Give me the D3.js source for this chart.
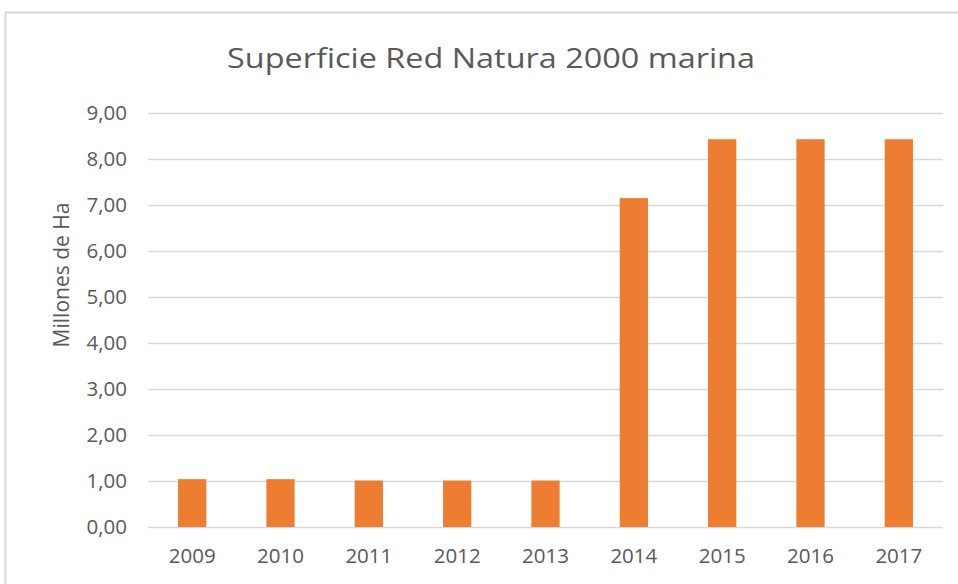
<!DOCTYPE html>
<html>
<head>
<meta charset="utf-8">
<script src="https://cdn.jsdelivr.net/npm/d3@7"></script>
<style>
  body { margin: 0; background: #fff; }
  text { font-family: "Open Sans", sans-serif; fill: #595959; }
</style>
</head>
<body>
<svg width="958" height="584"></svg>
<script>
const svg = d3.select("svg");

const years = ["2009", "2010", "2011", "2012", "2013", "2014", "2015", "2016", "2017"];
const superficie = [1.04, 1.04, 1.01, 1.01, 1.01, 7.15, 8.43, 8.43, 8.43];
const yTicks = [0, 1, 2, 3, 4, 5, 6, 7, 8, 9];

const margin = { left: 148, right: 15, top: 113, bottom: 57 };
const width = 958, height = 584;

// chart frame
svg.append("rect")
    .attr("x", 5.5).attr("y", 12.5)
    .attr("width", 1000).attr("height", 1000)
    .attr("fill", "none")
    .attr("stroke", "#d9d9d9")
    .attr("stroke-width", 2);

const x = d3.scaleBand()
    .domain(years)
    .range([margin.left, width - margin.right])
    .paddingInner(0.68)
    .paddingOuter(0.34);

const y = d3.scaleLinear()
    .domain([0, 9])
    .range([height - margin.bottom, margin.top]);

// gridlines
svg.append("g")
    .selectAll("line")
    .data(yTicks)
    .enter().append("line")
    .attr("x1", margin.left)
    .attr("x2", width - margin.right)
    .attr("y1", d => y(d) + 0.5)
    .attr("y2", d => y(d) + 0.5)
    .style("stroke", "#d9d9d9")
    .style("stroke-width", 1.3);

// y tick labels
svg.append("g")
    .selectAll("text")
    .data(yTicks)
    .enter().append("text")
    .attr("x", 127)
    .attr("y", d => y(d))
    .attr("dy", "0.35em")
    .attr("text-anchor", "end")
    .attr("font-size", 20.5)
    .text(d => d3.format(".2f")(d).replace(".", ","));

// bars
svg.append("g")
    .selectAll("rect")
    .data(years)
    .enter().append("rect")
    .attr("x", d => x(d))
    .attr("width", x.bandwidth())
    .attr("y", (d, i) => y(superficie[i]))
    .attr("height", (d, i) => y(0) - y(superficie[i]))
    .style("fill", "#ed7d31");

// x labels
svg.append("g")
    .selectAll("text")
    .data(years)
    .enter().append("text")
    .attr("x", d => x(d) + x.bandwidth() / 2)
    .attr("y", 556)
    .attr("dy", "0.35em")
    .attr("text-anchor", "middle")
    .attr("font-size", 20.5)
    .text(d => d);

// title
svg.append("text")
    .attr("x", 491)
    .attr("y", 58)
    .attr("dy", "0.35em")
    .attr("text-anchor", "middle")
    .attr("font-size", 27.5)
    .attr("textLength", 528)
    .attr("lengthAdjust", "spacingAndGlyphs")
    .text("Superficie Red Natura 2000 marina");

// y axis title
svg.append("text")
    .attr("transform", "translate(62,275) rotate(-90)")
    .attr("dy", "0.35em")
    .attr("text-anchor", "middle")
    .attr("font-size", 21)
    .text("Millones de Ha");
</script>
</body>
</html>
